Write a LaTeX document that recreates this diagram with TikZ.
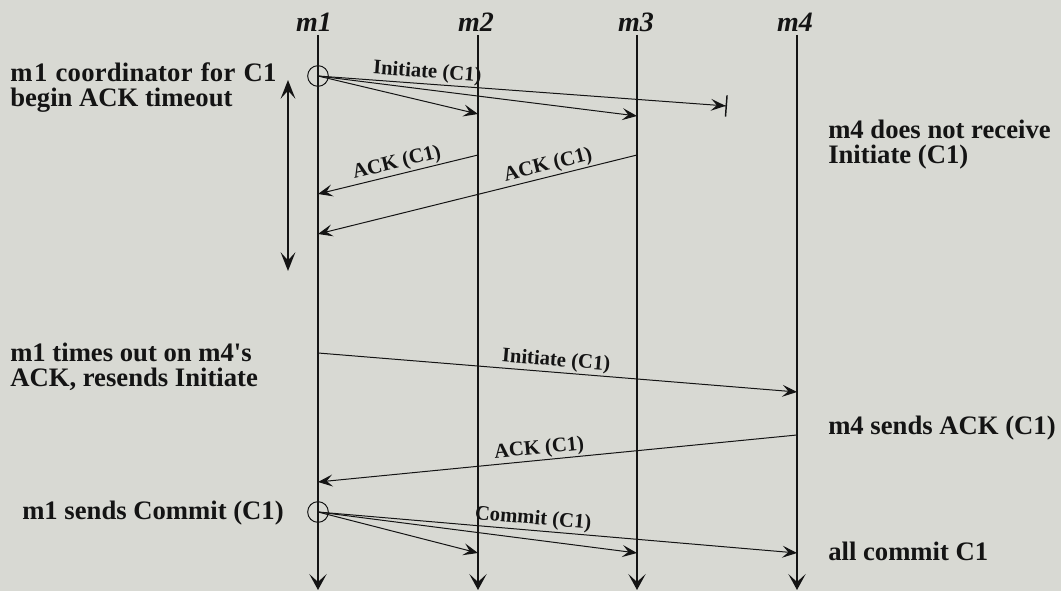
\documentclass[tikz,border=0pt]{standalone}
\usepackage{fontspec}
\setmainfont{Liberation Serif}
\usetikzlibrary{arrows.meta}
\definecolor{bg}{RGB}{216,217,211}
\definecolor{ink}{RGB}{20,20,20}
\begin{document}
\begin{tikzpicture}[x=0.75pt,y=-0.75pt,
  life/.style={draw=ink,line width=1.1pt,-{Stealth[length=12pt,width=13pt,inset=6pt]}},
  msg/.style={draw=ink,line width=0.75pt,-{Stealth[length=11pt,width=9pt,inset=4.5pt]}},
  lost/.style={draw=ink,line width=0.75pt,-{Stealth[length=11pt,width=9pt,inset=4.5pt,sep=0pt]Bar[width=16pt,line width=1.1pt]}},
  head/.style={font=\fontsize{21}{24}\selectfont\bfseries\itshape,text=ink},
  side/.style={font=\fontsize{20}{18.8}\selectfont\bfseries,text=ink,align=left,anchor=west,inner sep=0pt},
  lbl/.style={font=\fontsize{15.5}{17}\selectfont\bfseries,text=ink,sloped,above,inner sep=1pt},
  evt/.style={draw=ink,line width=0.75pt,circle,minimum size=15.5pt,inner sep=0pt}]
\fill[bg] (0,0) rectangle (1061,591);
\useasboundingbox (0,0) rectangle (1061,591);
% headers
\node[head] (h1) at (314,22) {m1};
\node[head] (h2) at (476,22) {m2};
\node[head] (h3) at (636,22) {m3};
\node[head] (h4) at (795,22) {m4};
% lifelines
\coordinate (t1) at (318,35); \coordinate (b1) at (318,590);
\coordinate (t2) at (478,35); \coordinate (b2) at (478,590);
\coordinate (t3) at (637,35); \coordinate (b3) at (637,590);
\coordinate (t4) at (797,35); \coordinate (b4) at (797,590);
\draw[life] (t1) -- (b1);
\draw[life] (t2) -- (b2);
\draw[life] (t3) -- (b3);
\draw[life] (t4) -- (b4);
% first initiate
\node[evt] (c1) at (318,76) {};
\coordinate (i2) at (478,114);
\coordinate (i3) at (637,116);
\coordinate (i4) at (727,106);
\draw[lost] (c1.center) -- node[lbl,pos=0.265] {Initiate (C1)} (i4);
\draw[msg] (c1.center) -- (i2);
\draw[msg] (c1.center) -- (i3);
% ACKs
\coordinate (a2s) at (478,155); \coordinate (a2e) at (318,194);
\coordinate (a3s) at (637,155); \coordinate (a3e) at (318,234);
\draw[msg] (a2s) -- node[lbl,pos=0.49] {ACK (C1)} (a2e);
\draw[msg] (a3s) -- node[lbl,pos=0.27] {ACK (C1)} (a3e);
% timeout
\coordinate (to1) at (288,80); \coordinate (to2) at (288,271);
\draw[draw=ink,line width=1.4pt,{Stealth[length=14pt,width=11pt,inset=6pt]}-{Stealth[length=14pt,width=11pt,inset=6pt]}] (to1) -- (to2);
% resend
\coordinate (r1) at (318,353); \coordinate (r4) at (797,392);
\draw[msg] (r1) -- node[lbl,pos=0.495] {Initiate (C1)} (r4);
\coordinate (k4) at (797,435); \coordinate (k1) at (318,482);
\draw[msg] (k4) -- node[lbl,pos=0.536] {ACK (C1)} (k1);
% commit
\node[evt] (c2) at (318,512) {};
\coordinate (m2e) at (478,553);
\coordinate (m3e) at (637,553);
\coordinate (m4e) at (797,553);
\draw[msg] (c2.center) -- node[lbl,pos=0.447] {Commit (C1)} (m4e);
\draw[msg] (c2.center) -- (m2e);
\draw[msg] (c2.center) -- (m3e);
% side texts
\node[side] (s1) at (10,88) {{\addfontfeature{LetterSpace=0.8}\spaceskip=6.2pt plus 2pt m\kern1.2pt1 coordinator for C1}\\begin ACK timeout};
\node[side] (s2) at (10,367) {m1 times out on m4\textquotesingle s\\ACK, resends Initiate};
\node[side] (s3) at (22,513) {m1 sends Commit (C1)};
\node[side] (s4) at (828,145) {m4 does not receive\\Initiate (C1)};
\node[side] (s5) at (828,428) {m4 sends ACK (C1)};
\node[side] (s6) at (828,551) {all commit C1};
\end{tikzpicture}
\end{document}
